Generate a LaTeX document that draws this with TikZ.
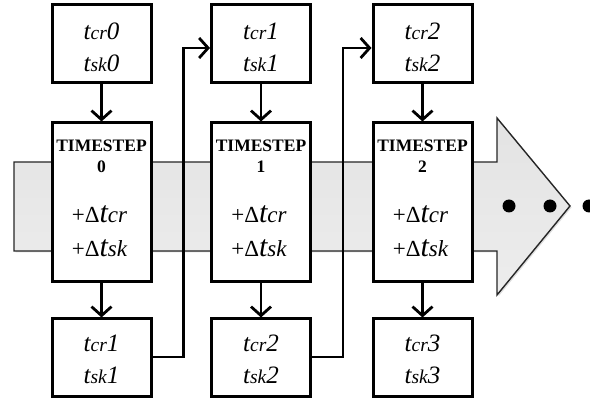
\documentclass[tikz,border=0pt]{standalone}
\usepackage{fontspec}
\setmainfont{Liberation Serif}
\usetikzlibrary{arrows.meta,shadows}
\newcommand\tvar[2]{{\fontsize{25}{25}\selectfont\itshape t{\fontsize{19.5}{19.5}\selectfont #1}#2}}
\newcommand\dvar[1]{{\fontsize{23}{23}\selectfont +Δ{\itshape\fontsize{30}{30}\selectfont t}{\itshape #1}}}
\newcommand\tstep[1]{{\fontsize{17.5}{17.5}\selectfont\bfseries #1}}
\tikzset{
  box/.style={draw, line width=3pt, fill=white, minimum width=99pt, inner sep=0pt},
  smallbox/.style={box, minimum height=78pt},
  stepbox/.style={box, minimum height=159pt},
  lbl/.style={anchor=base, inner sep=0pt},
  conn/.style={line width=2.8pt, -{Straight Barb[length=9pt,width=20pt]}},
  band/.style={draw=black!85, line width=1.4pt, line join=miter, top color=gray!22, bottom color=gray!14,
     drop shadow={opacity=0.25, shadow xshift=1.5pt, shadow yshift=-1.5pt}},
  dot/.style={circle, fill=black, minimum size=13pt, inner sep=0pt}
}
\begin{document}
\begin{tikzpicture}[x=1pt,y=-1pt]
\useasboundingbox (0,0) rectangle (590,403);
% big arrow band
\path[band] (14,162) -- (497,162) -- (497,118) -- (570,206) -- (497,295) -- (497,251) -- (14,251) -- cycle;
\node[dot] (d1) at (509,206) {};
\node[dot] (d2) at (550,206) {};
\node[dot] (d3) at (589,206) {};
% column 0
\node[smallbox] (t0) at (101.5,44) {};
\node[stepbox]  (m0) at (101.5,202.5) {};
\node[smallbox] (b0) at (101.5,358) {};
% column 1
\node[smallbox] (t1) at (261,44) {};
\node[stepbox]  (m1) at (261,202.5) {};
\node[smallbox] (b1) at (261,358) {};
% column 2
\node[smallbox] (t2) at (422.5,44) {};
\node[stepbox]  (m2) at (422.5,202.5) {};
\node[smallbox] (b2) at (422.5,358) {};
% texts column 0
\node[lbl] (t0a) at (101.5,40) {\tvar{cr}{0}};
\node[lbl] (t0b) at (101.5,71.5) {\tvar{sk}{0}};
\node[lbl] (m0a) at (101.5,152) {\tstep{TIMESTEP}};
\node[lbl] (m0b) at (101.5,173) {\tstep{0}};
\node[lbl] (m0c) at (99.5,223) {\dvar{cr}};
\node[lbl] (m0d) at (99.5,257) {\dvar{sk}};
\node[lbl] (b0a) at (101.5,352) {\tvar{cr}{1}};
\node[lbl] (b0b) at (101.5,383.5) {\tvar{sk}{1}};
% texts column 1
\node[lbl] (t1a) at (261,40) {\tvar{cr}{1}};
\node[lbl] (t1b) at (261,71.5) {\tvar{sk}{1}};
\node[lbl] (m1a) at (261,152) {\tstep{TIMESTEP}};
\node[lbl] (m1b) at (261,173) {\tstep{1}};
\node[lbl] (m1c) at (259,223) {\dvar{cr}};
\node[lbl] (m1d) at (259,257) {\dvar{sk}};
\node[lbl] (b1a) at (261,352) {\tvar{cr}{2}};
\node[lbl] (b1b) at (261,383.5) {\tvar{sk}{2}};
% texts column 2
\node[lbl] (t2a) at (422.5,40) {\tvar{cr}{2}};
\node[lbl] (t2b) at (422.5,71.5) {\tvar{sk}{2}};
\node[lbl] (m2a) at (422.5,152) {\tstep{TIMESTEP}};
\node[lbl] (m2b) at (422.5,173) {\tstep{2}};
\node[lbl] (m2c) at (420.5,223) {\dvar{cr}};
\node[lbl] (m2d) at (420.5,257) {\dvar{sk}};
\node[lbl] (b2a) at (422.5,352) {\tvar{cr}{3}};
\node[lbl] (b2b) at (422.5,383.5) {\tvar{sk}{3}};
% vertical connectors
\draw[conn] (t0.south) -- (m0.north);
\draw[conn] (m0.south) -- (b0.north);
\draw[conn] (t1.south) -- (m1.north);
\draw[conn] (m1.south) -- (b1.north);
\draw[conn] (t2.south) -- (m2.north);
\draw[conn] (m2.south) -- (b2.north);
% feedback connectors
\draw[conn] ([yshift=1pt]b0.east) -- ++(31,0) |- ([yshift=-4pt]t1.west);
\draw[conn] ([yshift=1pt]b1.east) -- ++(31,0) |- ([yshift=-4pt]t2.west);
\end{tikzpicture}
\end{document}
